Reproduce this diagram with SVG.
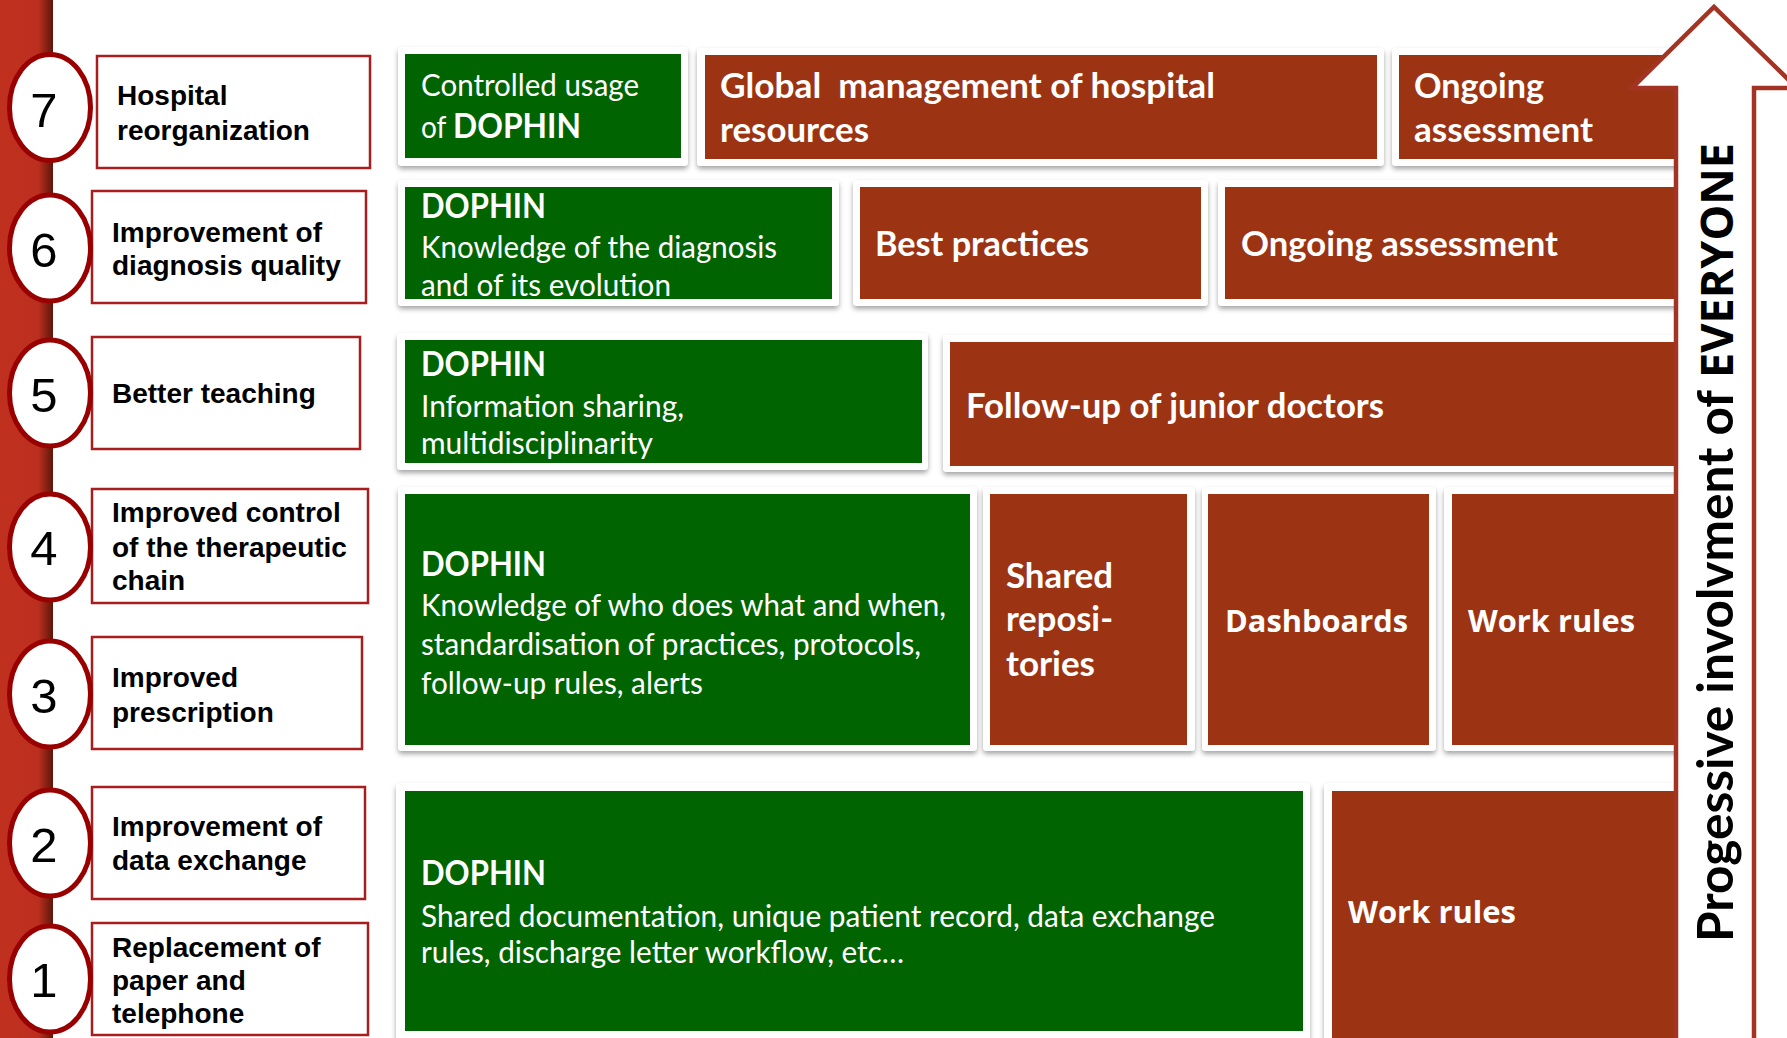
<svg xmlns="http://www.w3.org/2000/svg" width="1787" height="1038" viewBox="0 0 1787 1038">
<defs>
<linearGradient id="bar" x1="0" y1="0" x2="1" y2="0">
<stop offset="0" stop-color="#C0301F"/>
<stop offset="0.72" stop-color="#BC2F1E"/>
<stop offset="1" stop-color="#5E160C"/>
</linearGradient>
<filter id="sh" x="-5%" y="-10%" width="110%" height="130%">
<feDropShadow dx="0" dy="3" stdDeviation="2.5" flood-color="#000" flood-opacity="0.35"/>
</filter>
<style>
.lbl{font-family:"Liberation Sans",Arial,sans-serif;font-weight:bold;font-size:28px;fill:#000}
.num{font-family:"Liberation Sans",Arial,sans-serif;font-size:49px;fill:#000;text-anchor:middle}
.reg{font-family:Lato,"Noto Sans",sans-serif;font-size:30px;fill:#fff}
.bd{font-family:Lato,"Noto Sans",sans-serif;font-weight:bold;font-size:34px;fill:#fff}
.os{font-family:"Open Sans","Noto Sans",sans-serif;font-weight:bold;font-size:31px;fill:#fff}
.card{fill:#fff;filter:url(#sh)}
.g{fill:#006400}
.r{fill:#9C3413}
.box{fill:#fff;stroke:#A81E1E;stroke-width:2.5}
.circ{fill:#fff;stroke:#990000;stroke-width:5}
.vt{font-family:Lato,"Noto Sans",sans-serif;font-weight:bold;font-size:49px;fill:#000}
.vt2{font-family:"Open Sans","Noto Sans",sans-serif;font-weight:bold;font-size:45px;fill:#000}
.pre{white-space:pre}
</style>
</defs>
<rect x="0" y="0" width="1787" height="1038" fill="#fff"/>
<rect x="0" y="0" width="53" height="1038" fill="url(#bar)"/>

<g id="level7">
<rect class="box" x="97" y="56" width="273" height="112"/>
<ellipse class="circ" cx="50" cy="107.5" rx="40.5" ry="53"/>
<text class="num" x="44" y="127">7</text>
<text class="lbl" x="117" y="105">Hospital</text>
<text class="lbl" x="117" y="140">reorganization</text>
</g>
<g id="level6">
<rect class="box" x="92" y="191" width="274" height="112"/>
<ellipse class="circ" cx="50" cy="248" rx="40.5" ry="53"/>
<text class="num" x="44" y="267">6</text>
<text class="lbl" x="112" y="242">Improvement of</text>
<text class="lbl" x="112" y="275">diagnosis quality</text>
</g>
<g id="level5">
<rect class="box" x="92" y="337" width="268" height="112"/>
<ellipse class="circ" cx="50" cy="393" rx="40.5" ry="53"/>
<text class="num" x="44" y="412">5</text>
<text class="lbl" x="112" y="403">Better teaching</text>
</g>
<g id="level4">
<rect class="box" x="92" y="489" width="276" height="114"/>
<ellipse class="circ" cx="50" cy="547" rx="40.5" ry="53"/>
<text class="num" x="44" y="565">4</text>
<text class="lbl" x="112" y="522">Improved control</text>
<text class="lbl" x="112" y="557">of the therapeutic</text>
<text class="lbl" x="112" y="590">chain</text>
</g>
<g id="level3">
<rect class="box" x="92" y="637" width="270" height="112"/>
<ellipse class="circ" cx="50" cy="694" rx="40.5" ry="53"/>
<text class="num" x="44" y="713">3</text>
<text class="lbl" x="112" y="687">Improved</text>
<text class="lbl" x="112" y="722">prescription</text>
</g>
<g id="level2">
<rect class="box" x="92" y="787" width="273" height="112"/>
<ellipse class="circ" cx="50" cy="843" rx="40.5" ry="53"/>
<text class="num" x="44" y="862">2</text>
<text class="lbl" x="112" y="836">Improvement of</text>
<text class="lbl" x="112" y="870">data exchange</text>
</g>
<g id="level1">
<rect class="box" x="92" y="923" width="276" height="112"/>
<ellipse class="circ" cx="50" cy="979" rx="40.5" ry="53"/>
<text class="num" x="44" y="997">1</text>
<text class="lbl" x="112" y="957">Replacement of</text>
<text class="lbl" x="112" y="990">paper and</text>
<text class="lbl" x="112" y="1023">telephone</text>
</g>

<g id="row7">
<g id="r7-dophin">
<rect class="card" x="398" y="47" width="290" height="119" rx="4"/>
<rect class="g" x="405" y="54" width="276" height="104"/>
<text class="reg" x="421" y="96" textLength="218" lengthAdjust="spacingAndGlyphs">Controlled usage</text>
<text class="reg" x="421" y="138" textLength="160" lengthAdjust="spacingAndGlyphs">of <tspan class="bd" font-size="35">DOPHIN</tspan></text>
</g>
<g id="r7-global">
<rect class="card" x="697" y="48" width="687" height="118" rx="4"/>
<rect class="r" x="705" y="55" width="672" height="104"/>
<text class="bd pre" x="720" y="98" textLength="495" lengthAdjust="spacingAndGlyphs">Global  management of hospital</text>
<text class="bd" x="720" y="142" textLength="149" lengthAdjust="spacingAndGlyphs">resources</text>
</g>
<g id="r7-assess">
<rect class="card" x="1392" y="48" width="300" height="118" rx="4"/>
<rect class="r" x="1399" y="55" width="285" height="104"/>
<text class="bd" x="1414" y="98" textLength="130" lengthAdjust="spacingAndGlyphs">Ongoing</text>
<text class="bd" x="1414" y="142" textLength="179" lengthAdjust="spacingAndGlyphs">assessment</text>
</g>
</g>

<g id="row6">
<g id="r6-dophin">
<rect class="card" x="398" y="180" width="441" height="126" rx="4"/>
<rect class="g" x="405" y="187" width="427" height="112"/>
<text class="bd" x="421" y="218" textLength="125" lengthAdjust="spacingAndGlyphs">DOPHIN</text>
<text class="reg" x="421" y="258" textLength="356" lengthAdjust="spacingAndGlyphs">Knowledge of the diagnosis</text>
<text class="reg" x="421" y="296" textLength="250" lengthAdjust="spacingAndGlyphs">and of its evolution</text>
</g>
<g id="r6-best">
<rect class="card" x="853" y="180" width="355" height="126" rx="4"/>
<rect class="r" x="860" y="187" width="341" height="112"/>
<text class="bd" x="875" y="256" textLength="214" lengthAdjust="spacingAndGlyphs">Best practices</text>
</g>
<g id="r6-assess">
<rect class="card" x="1218" y="180" width="474" height="126" rx="4"/>
<rect class="r" x="1225" y="187" width="459" height="112"/>
<text class="bd" x="1241" y="256" textLength="317" lengthAdjust="spacingAndGlyphs">Ongoing assessment</text>
</g>
</g>

<g id="row5">
<g id="r5-dophin">
<rect class="card" x="397" y="333" width="531" height="137" rx="4"/>
<rect class="g" x="405" y="340" width="517" height="123"/>
<text class="bd" x="421" y="376" textLength="125" lengthAdjust="spacingAndGlyphs">DOPHIN</text>
<text class="reg" x="421" y="417" textLength="263" lengthAdjust="spacingAndGlyphs">Information sharing,</text>
<text class="reg" x="421" y="454" textLength="232" lengthAdjust="spacingAndGlyphs">multidisciplinarity</text>
</g>
<g id="r5-followup">
<rect class="card" x="943" y="335" width="749" height="137" rx="4"/>
<rect class="r" x="950" y="342" width="734" height="124"/>
<text class="bd" x="966" y="418" textLength="418" lengthAdjust="spacingAndGlyphs">Follow-up of junior doctors</text>
</g>
</g>

<g id="row43">
<g id="r4-dophin">
<rect class="card" x="398" y="487" width="579" height="264" rx="4"/>
<rect class="g" x="405" y="494" width="565" height="251"/>
<text class="bd" x="421" y="576" textLength="125" lengthAdjust="spacingAndGlyphs">DOPHIN</text>
<text class="reg" x="421" y="616" textLength="525" lengthAdjust="spacingAndGlyphs">Knowledge of who does what and when,</text>
<text class="reg" x="421" y="655" textLength="500" lengthAdjust="spacingAndGlyphs">standardisation of practices, protocols,</text>
<text class="reg" x="421" y="694" textLength="282" lengthAdjust="spacingAndGlyphs">follow-up rules, alerts</text>
</g>
<g id="r4-shared">
<rect class="card" x="983" y="487" width="212" height="264" rx="4"/>
<rect class="r" x="990" y="494" width="197" height="251"/>
<text class="bd" x="1006" y="588" textLength="107" lengthAdjust="spacingAndGlyphs">Shared</text>
<text class="bd" x="1006" y="631" textLength="107" lengthAdjust="spacingAndGlyphs">reposi-</text>
<text class="bd" x="1006" y="676" textLength="89" lengthAdjust="spacingAndGlyphs">tories</text>
</g>
<g id="r4-dash">
<rect class="card" x="1202" y="487" width="234" height="264" rx="4"/>
<rect class="r" x="1208" y="494" width="221" height="251"/>
<text class="os" x="1225" y="632" textLength="183" lengthAdjust="spacingAndGlyphs">Dashboards</text>
</g>
<g id="r4-rules">
<rect class="card" x="1444" y="487" width="248" height="264" rx="4"/>
<rect class="r" x="1452" y="494" width="232" height="251"/>
<text class="os" x="1468" y="632" textLength="167" lengthAdjust="spacingAndGlyphs">Work rules</text>
</g>
</g>

<g id="row21">
<g id="r2-dophin">
<rect class="card" x="396" y="783" width="914" height="262" rx="4"/>
<rect class="g" x="405" y="791" width="898" height="240"/>
<text class="bd" x="421" y="885" textLength="125" lengthAdjust="spacingAndGlyphs">DOPHIN</text>
<text class="reg" x="421" y="927" textLength="794" lengthAdjust="spacingAndGlyphs">Shared documentation, unique patient record, data exchange</text>
<text class="reg" x="421" y="963" textLength="483" lengthAdjust="spacingAndGlyphs">rules, discharge letter workflow, etc…</text>
</g>
<g id="r2-rules">
<rect class="card" x="1324" y="783" width="368" height="262" rx="4"/>
<rect class="r" x="1332" y="791" width="352" height="250"/>
<text class="os" x="1348" y="923" textLength="168" lengthAdjust="spacingAndGlyphs">Work rules</text>
</g>
</g>

<g id="connectors">
<path id="arrow" d="M1676,1045 L1676,88 L1632,88 L1714,7 L1797,88 L1754,88 L1754,1045" fill="#fff" stroke="#A33424" stroke-width="4.5" stroke-linejoin="miter"/>
</g>
<g id="arrow-label">
<text class="vt" transform="translate(1733,942) rotate(-90)" textLength="552" lengthAdjust="spacingAndGlyphs">Progessive involvment of</text>
<text class="vt2" transform="translate(1733,378) rotate(-90)" textLength="235" lengthAdjust="spacingAndGlyphs">EVERYONE</text>
</g>
</svg>
